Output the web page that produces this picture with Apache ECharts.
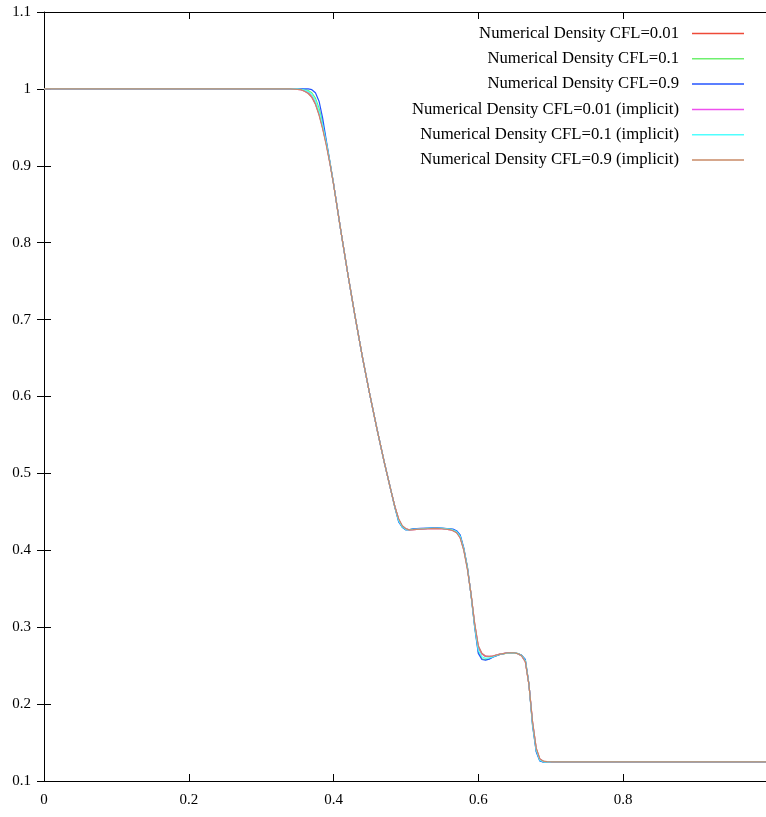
<!DOCTYPE html>
<html>
<head>
<meta charset="utf-8">
<script src="https://cdn.jsdelivr.net/npm/echarts@6/dist/echarts.min.js"></script>
<style>html,body{margin:0;padding:0;background:#fff}#c{width:766px;height:817px}</style>
</head>
<body>
<div id="c"></div>
<script>
// ---- data ----
const xPos = [0, 0.1, 0.2, 0.3, 0.34, 0.35, 0.355, 0.36, 0.365,
  0.37, 0.375, 0.38, 0.385, 0.39, 0.395, 0.40,
  0.41, 0.42, 0.43, 0.44, 0.45, 0.46, 0.47, 0.48,
  0.485, 0.49, 0.495, 0.50, 0.505, 0.51,
  0.52, 0.53, 0.54, 0.55, 0.56,
  0.565, 0.57, 0.575, 0.58, 0.585, 0.59, 0.595, 0.60, 0.605, 0.61, 0.615, 0.62,
  0.63, 0.64, 0.65,
  0.655, 0.66, 0.665, 0.67, 0.675, 0.68, 0.685, 0.69, 0.695, 0.70,
  0.8, 0.9, 0.9975];

const rhoExp001 = [1, 1, 1, 1, 1, 0.9995, 0.999, 0.9975, 0.995,
  0.990, 0.981, 0.968, 0.950, 0.929, 0.904, 0.877,
  0.816, 0.758, 0.703, 0.651, 0.603, 0.558, 0.515, 0.475,
  0.456, 0.440, 0.431, 0.4275, 0.4265, 0.4268,
  0.4275, 0.428, 0.4285, 0.428, 0.427,
  0.4258, 0.4235, 0.417, 0.401, 0.377, 0.343, 0.304, 0.274, 0.265, 0.262, 0.2618, 0.2624,
  0.265, 0.2663, 0.2664,
  0.2656, 0.2628, 0.2555, 0.225, 0.176, 0.142, 0.128, 0.1256, 0.1251, 0.125,
  0.125, 0.125, 0.125];

const rhoExp01 = [1, 1, 1, 1, 1, 1, 0.9998, 0.999, 0.998,
  0.995, 0.988, 0.975, 0.956, 0.931, 0.905, 0.877,
  0.816, 0.758, 0.703, 0.651, 0.603, 0.558, 0.515, 0.475,
  0.455, 0.438, 0.430, 0.427, 0.4268, 0.4275,
  0.428, 0.4285, 0.429, 0.4287, 0.4278,
  0.4268, 0.4248, 0.419, 0.402, 0.378, 0.342, 0.301, 0.268, 0.259, 0.2578, 0.2588, 0.2612,
  0.2645, 0.2664, 0.2665,
  0.2656, 0.2634, 0.2575, 0.226, 0.173, 0.139, 0.1265, 0.1248, 0.125, 0.125,
  0.125, 0.125, 0.125];

const rhoExp09 = [1, 1, 1, 1, 1, 1, 1, 1, 1.0,
  0.999, 0.995, 0.984, 0.962, 0.933, 0.905, 0.877,
  0.816, 0.758, 0.703, 0.651, 0.603, 0.558, 0.515, 0.475,
  0.455, 0.437, 0.430, 0.4265, 0.427, 0.428,
  0.4285, 0.429, 0.4295, 0.429, 0.428,
  0.4275, 0.4255, 0.420, 0.403, 0.378, 0.342, 0.300, 0.266, 0.258, 0.257, 0.2585, 0.261,
  0.2645, 0.2665, 0.2665,
  0.2655, 0.2635, 0.258, 0.226, 0.172, 0.138, 0.126, 0.1245, 0.125, 0.125,
  0.125, 0.125, 0.125];

const rhoImp001 = [1, 1, 1, 1, 1, 0.9995, 0.999, 0.997, 0.9945,
  0.9895, 0.9805, 0.967, 0.949, 0.928, 0.9035, 0.877,
  0.816, 0.758, 0.703, 0.651, 0.603, 0.558, 0.515, 0.475,
  0.456, 0.4405, 0.4315, 0.428, 0.4265, 0.4268,
  0.4275, 0.428, 0.4285, 0.428, 0.427,
  0.4256, 0.4232, 0.4165, 0.4005, 0.376, 0.3425, 0.3045, 0.2755, 0.2655, 0.2623, 0.262, 0.2625,
  0.265, 0.2665, 0.2665,
  0.2655, 0.2626, 0.2552, 0.2255, 0.1765, 0.1425, 0.1285, 0.1257, 0.1251, 0.125,
  0.125, 0.125, 0.125];

const rhoImp01 = [1, 1, 1, 1, 1, 1, 0.9995, 0.9985, 0.9965,
  0.993, 0.985, 0.971, 0.953, 0.930, 0.9045, 0.877,
  0.816, 0.758, 0.703, 0.651, 0.603, 0.558, 0.515, 0.475,
  0.4555, 0.4385, 0.4305, 0.427, 0.4267, 0.4272,
  0.428, 0.4285, 0.429, 0.4285, 0.4275,
  0.4265, 0.4243, 0.4182, 0.4015, 0.377, 0.342, 0.302, 0.270, 0.2615, 0.2595, 0.26, 0.2615,
  0.2648, 0.2664, 0.2665,
  0.2656, 0.263, 0.2565, 0.2255, 0.174, 0.1405, 0.127, 0.125, 0.125, 0.125,
  0.125, 0.125, 0.125];

const rhoImp09 = [1, 1, 1, 1, 1, 0.9995, 0.999, 0.997, 0.994,
  0.989, 0.980, 0.966, 0.948, 0.927, 0.903, 0.876,
  0.816, 0.758, 0.703, 0.651, 0.603, 0.558, 0.515, 0.475,
  0.456, 0.441, 0.432, 0.428, 0.4265, 0.4268,
  0.4275, 0.428, 0.4285, 0.428, 0.427,
  0.4255, 0.423, 0.416, 0.400, 0.375, 0.343, 0.305, 0.276, 0.266, 0.2625, 0.262, 0.2625,
  0.265, 0.2665, 0.2665,
  0.2655, 0.2625, 0.255, 0.225, 0.177, 0.143, 0.129, 0.1258, 0.1252, 0.125,
  0.125, 0.125, 0.125];

const seriesNames = [
  'Numerical Density CFL=0.01',
  'Numerical Density CFL=0.1',
  'Numerical Density CFL=0.9',
  'Numerical Density CFL=0.01 (implicit)',
  'Numerical Density CFL=0.1 (implicit)',
  'Numerical Density CFL=0.9 (implicit)'
];
const seriesValues = [rhoExp001, rhoExp01, rhoExp09, rhoImp001, rhoImp01, rhoImp09];
const seriesColors = ['#ee4a38', '#6ef06e', '#2455ff', '#ee50ee', '#50ffff', '#c98a66'];

const xTicks = [0, 0.2, 0.4, 0.6, 0.8];
const yTicks = [0.1, 0.2, 0.3, 0.4, 0.5, 0.6, 0.7, 0.8, 0.9, 1, 1.1];

// ---- chart ----
const FONT = 'Liberation Serif';
const chart = echarts.init(document.getElementById('c'), null, {renderer: 'canvas'});

function fmtX(v) {
  for (const t of xTicks) if (Math.abs(v - t) < 1e-6) return String(t);
  return '';
}
function fmtY(v) {
  for (const t of yTicks) if (Math.abs(v - t) < 1e-6) return String(t);
  return '';
}

const legends = seriesNames.map((n, i) => ({
  data: [n],
  orient: 'vertical',
  right: 22,
  top: 25 + i * 25.3,
  align: 'right',
  padding: 0,
  icon: 'rect',
  itemWidth: 52,
  itemHeight: 1.5,
  selectedMode: false,
  textStyle: {fontFamily: FONT, fontSize: 16.7, color: '#000', padding: [0, 8, 0, 0]}
}));

const tickStyle = {show: true, inside: true, length: 7, lineStyle: {color: '#000', width: 1}};

const option = {
  animation: false,
  backgroundColor: '#fff',
  grid: {left: 44, right: 0, top: 12, bottom: 36, containLabel: false},
  legend: legends,
  xAxis: [{
    type: 'value', min: 0, max: 0.9975, interval: 0.2, position: 'bottom',
    axisLine: {show: true, onZero: false, lineStyle: {color: '#000', width: 1}},
    axisTick: tickStyle,
    axisLabel: {formatter: fmtX, fontFamily: FONT, fontSize: 15, color: '#000', margin: 12, showMaxLabel: false},
    splitLine: {show: false}
  }, {
    type: 'value', min: 0, max: 0.9975, interval: 0.2, position: 'top',
    axisLine: {show: true, onZero: false, lineStyle: {color: '#000', width: 1}},
    axisTick: tickStyle,
    axisLabel: {show: false},
    splitLine: {show: false}
  }],
  yAxis: [{
    type: 'value', min: 0.1, max: 1.1, interval: 0.1, position: 'left',
    axisLine: {show: true, onZero: false, lineStyle: {color: '#000', width: 1}},
    axisTick: tickStyle,
    axisLabel: {formatter: fmtY, fontFamily: FONT, fontSize: 15, color: '#000', margin: 13},
    splitLine: {show: false}
  }, {
    type: 'value', min: 0.1, max: 1.1, interval: 0.1, position: 'right',
    axisLine: {show: false},
    axisTick: tickStyle,
    axisLabel: {show: false},
    splitLine: {show: false}
  }],
  series: seriesNames.map((n, i) => ({
    name: n,
    type: 'line',
    xAxisIndex: 0,
    yAxisIndex: 0,
    showSymbol: false,
    symbol: 'none',
    color: seriesColors[i],
    lineStyle: {color: seriesColors[i], width: 1.2},
    data: xPos.map((x, j) => [x, seriesValues[i][j]])
  }))
};
chart.setOption(option);
</script>
</body>
</html>
